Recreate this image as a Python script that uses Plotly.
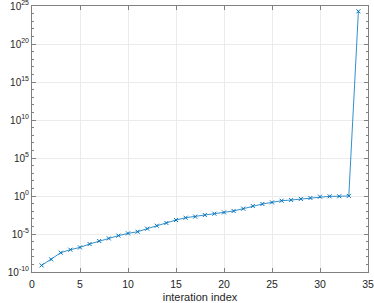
import plotly.graph_objects as go

iteration = list(range(1, 35))
log10_values = [-9.13, -8.34, -7.46, -7.07, -6.76, -6.32, -5.92, -5.58, -5.22, -4.92,
                -4.70, -4.30, -3.91, -3.55, -3.16, -2.86, -2.72, -2.50, -2.33, -2.16,
                -1.97, -1.67, -1.32, -1.05, -0.84, -0.62, -0.53, -0.39, -0.26, -0.09,
                -0.04, -0.04, 0.01, 24.3]
values = [10 ** v for v in log10_values]

x_ticks = [0, 5, 10, 15, 20, 25, 30, 35]
y_exponents = [-10, -5, 0, 5, 10, 15, 20, 25]
y_tickvals = [10.0 ** e for e in y_exponents]
y_ticktext = ["10<sup>%d</sup>" % e for e in y_exponents]
minor_tickvals = [10.0 ** e for e in range(-10, 26)]

FONT = "Liberation Sans, Arial, sans-serif"
AX = "#808080"

fig = go.Figure()
fig.add_trace(go.Scatter(
    x=iteration, y=values, mode="lines+markers",
    line=dict(color="#0072BD", width=0.8),
    marker=dict(symbol="x-thin", size=4, color="#0072BD",
                line=dict(width=1, color="#0072BD")),
    showlegend=False, hoverinfo="skip",
))
# invisible trace to carry the decade-tick axis
fig.add_trace(go.Scatter(x=iteration, y=values, mode="none", yaxis="y2",
                         showlegend=False, hoverinfo="skip"))

axis_common = dict(
    showline=True, linecolor=AX, linewidth=1, mirror="ticks",
    ticks="inside", ticklen=4, tickcolor=AX,
    showgrid=True, gridcolor="#ebebeb", gridwidth=1,
    zeroline=False, automargin=False, ticklabeloverflow="allow",
)

fig.update_layout(
    width=374, height=303,
    margin=dict(l=32, r=6, t=6, b=31),
    paper_bgcolor="white", plot_bgcolor="white",
    xaxis=dict(range=[0, 35], tickvals=x_ticks, ticklabelstandoff=2,
               tickfont=dict(family=FONT, size=10.5, color="#262626"),
               title=dict(text="interation index", standoff=4,
                          font=dict(family=FONT, size=11, color="#262626")),
               **axis_common),
    yaxis=dict(type="log", range=[-10, 25.0001], tickvals=y_tickvals, ticktext=y_ticktext,
               tickfont=dict(family=FONT, size=10, color="#262626"),
               **axis_common),
    yaxis2=dict(type="log", range=[-10, 25.0001], overlaying="y", side="left",
                tickvals=minor_tickvals, showticklabels=False,
                ticks="inside", ticklen=2, tickcolor=AX,
                showline=True, linecolor=AX, linewidth=1, mirror="ticks",
                showgrid=False, zeroline=False, automargin=False),
)

fig.write_html("out.html", config={"displayModeBar": False},
               post_script="document.body.style.margin='0';document.body.style.padding='0';")
